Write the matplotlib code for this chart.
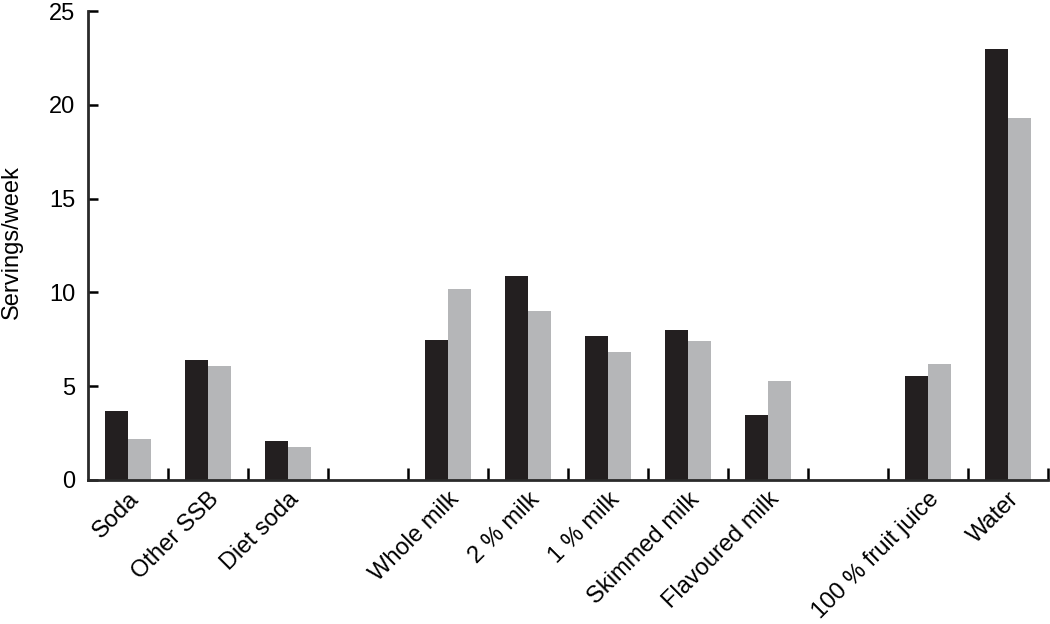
import numpy as np
from matplotlib import pyplot as plt

plt.rcParams['font.family'] = ['Liberation Sans', 'DejaVu Sans']

# categories, split into groups with one empty slot between groups
group_sizes = [3, 5, 2]
categories = ["Soda", "Other SSB", "Diet soda",
              "Whole milk", "2 % milk", "1 % milk", "Skimmed milk", "Flavoured milk",
              "100 % fruit juice", "Water"]
series_a = [3.7, 6.4, 2.1, 7.45, 10.9, 7.65, 8.0, 3.45, 5.55, 22.95]
series_b = [2.2, 6.1, 1.75, 10.2, 9.0, 6.8, 7.4, 5.3, 6.2, 19.3]
yticks = [0, 5, 10, 15, 20, 25]

dark = '#231f20'
light = '#b5b6b8'

# slot index for each category (skip one slot between groups)
slots = []
pos = 0
for g in group_sizes:
    for k in range(g):
        slots.append(pos)
        pos += 1
    pos += 1
nslots = pos - 1
centers = np.array(slots) + 0.5

fig = plt.figure(figsize=(10.5, 6.24), dpi=100)
ax = fig.add_axes([88 / 1050, 1 - 480 / 624, 960 / 1050, 469 / 624])

w = 0.29
ax.bar(centers - w / 2, series_a, width=w, color=dark, linewidth=0)
ax.bar(centers + w / 2, series_b, width=w, color=light, linewidth=0)

fs = 17
ax.set_xlim(0, nslots)
ax.set_ylim(0, 25)
ax.set_yticks(yticks)
ax.tick_params(axis='y', direction='in', length=7, width=1.8, labelsize=fs, pad=9)

ax.set_xticks(centers)
ax.set_xticklabels(categories, rotation=45, ha='right', rotation_mode='anchor', fontsize=fs)
ax.tick_params(axis='x', which='major', length=0, pad=6)
ax.set_xticks(np.arange(1, nslots + 1), minor=True)
ax.tick_params(axis='x', which='minor', direction='in', length=8.5, width=1.8)

for s in ['top', 'right']:
    ax.spines[s].set_visible(False)
for s in ['left', 'bottom']:
    ax.spines[s].set_linewidth(2.0)
    ax.spines[s].set_color('#2a2a2a')

# y label placed in figure coords so it sits at the far left edge
fig.text(12 / 1050, 1 - 242 / 624, "Servings/week", fontsize=fs,
         rotation=90, ha='center', va='center')

plt.savefig("out.png", dpi=100)
